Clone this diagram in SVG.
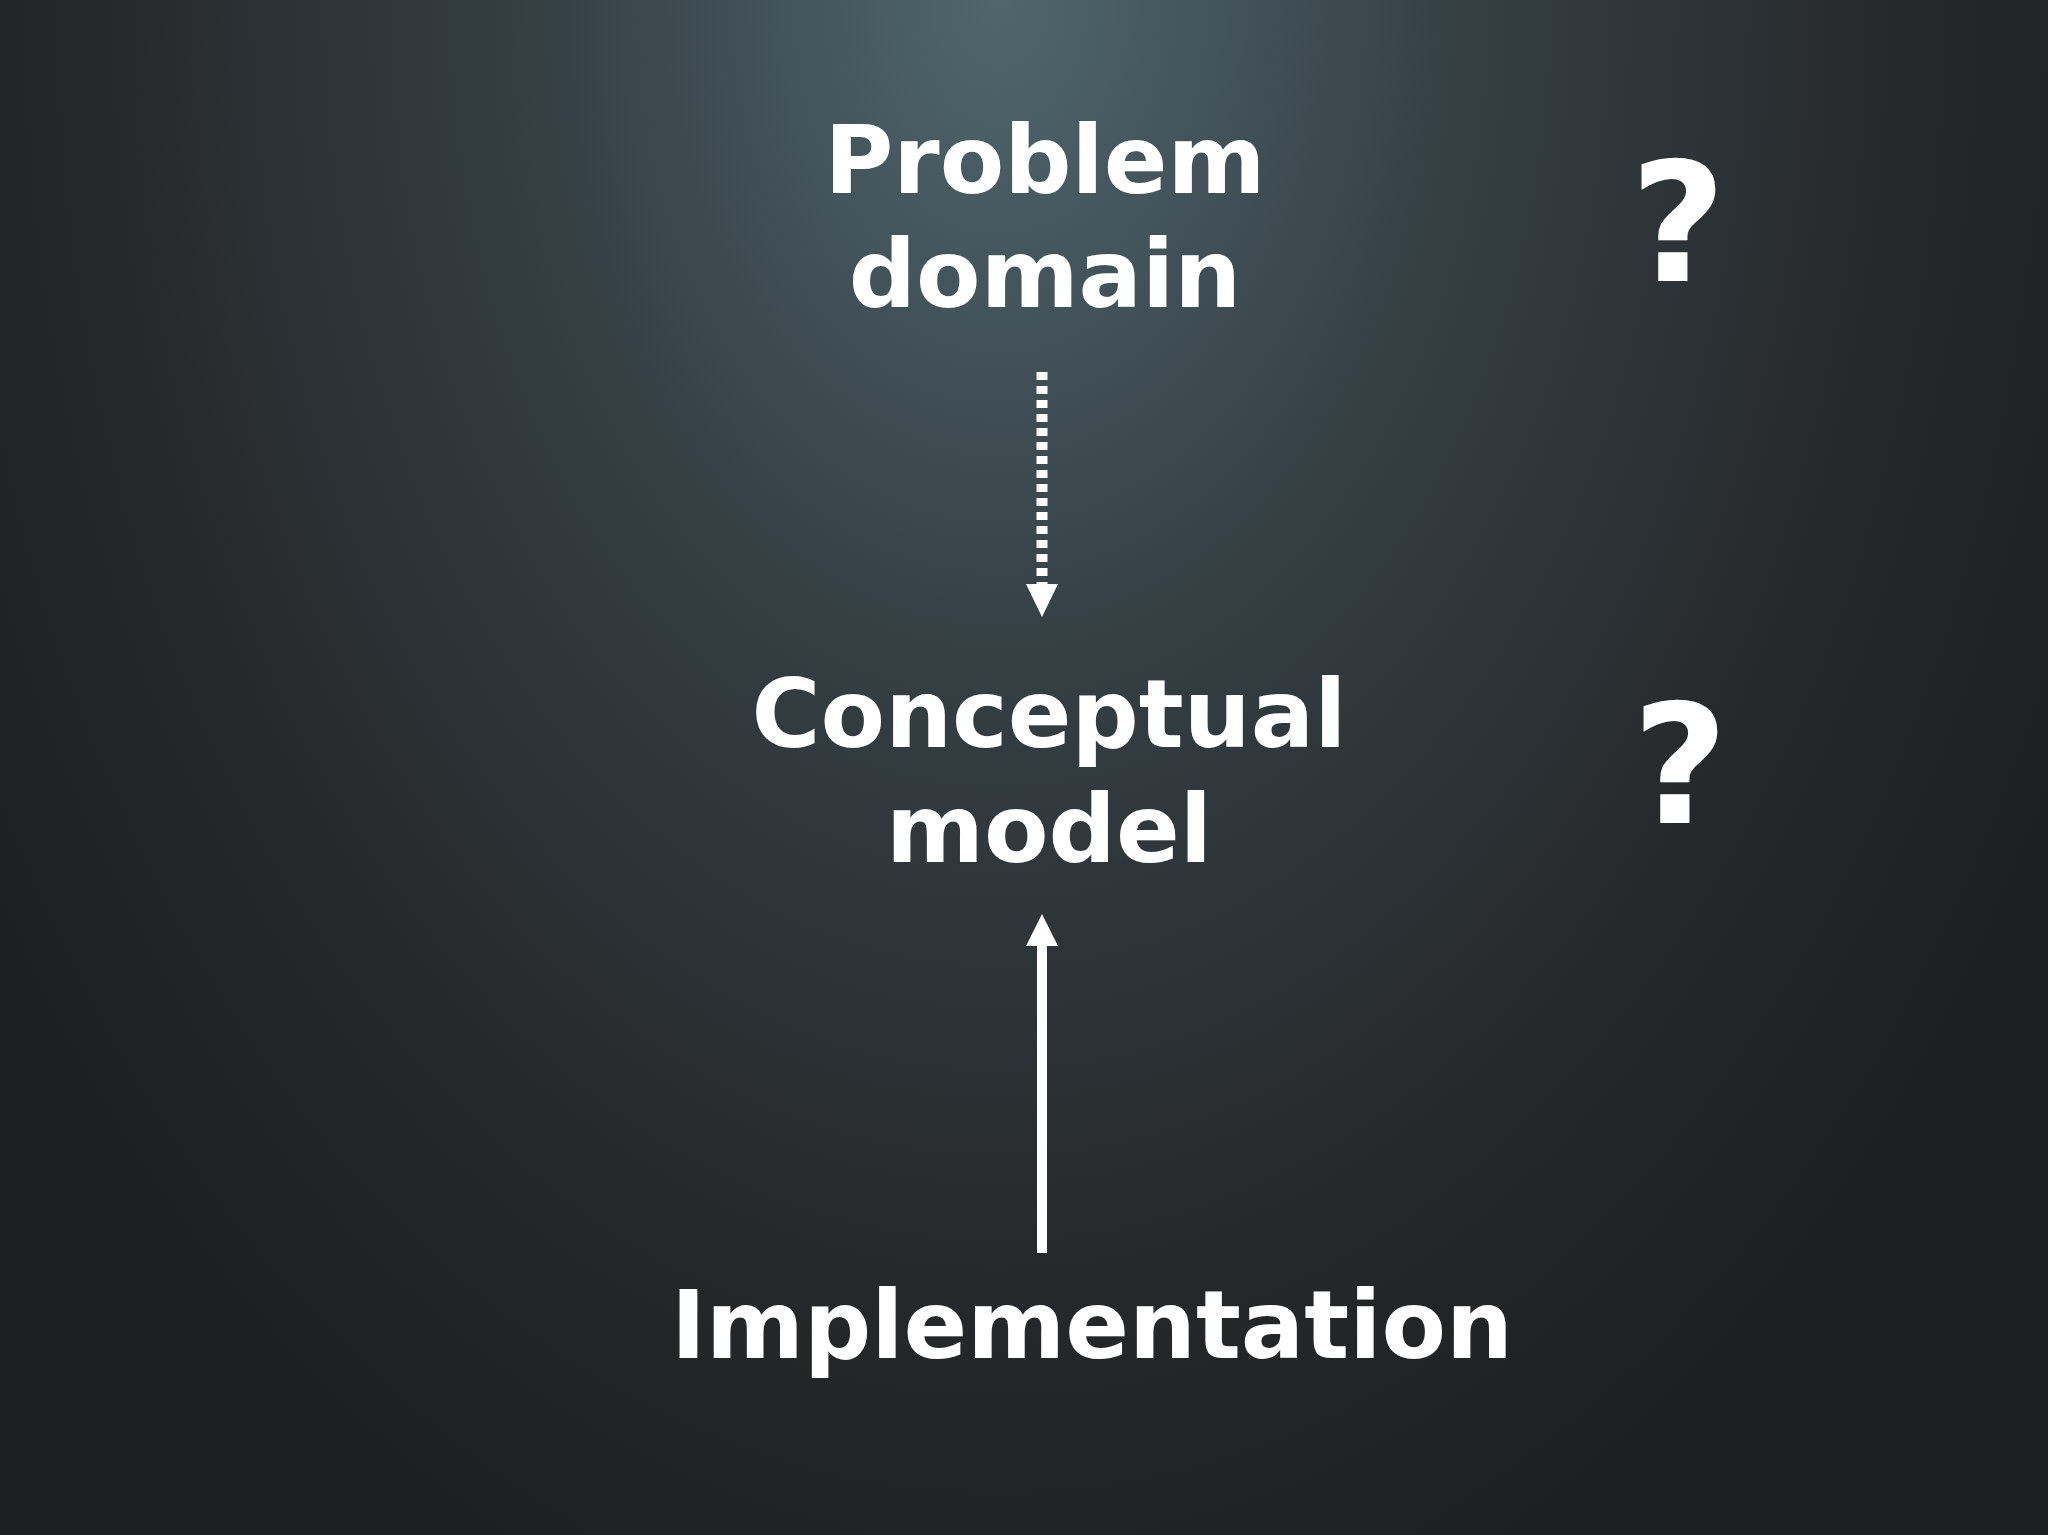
<svg xmlns="http://www.w3.org/2000/svg" width="2048" height="1535" viewBox="0 0 2048 1535">
<defs>
<radialGradient id="bg" cx="1000" cy="0" r="1700" gradientUnits="userSpaceOnUse" gradientTransform="translate(1000 0) scale(0.7 1) translate(-1000 0)">
<stop offset="0" stop-color="#4f666d"/>
<stop offset="0.4" stop-color="#343e43"/>
<stop offset="0.8" stop-color="#242628"/>
<stop offset="1" stop-color="#1e1f21"/>
</radialGradient>
<style>
text{font-family:"DejaVu Sans",Verdana,sans-serif;font-weight:bold;fill:#fff;text-anchor:middle}
.n{font-size:94px}
.q{font-size:165px}
</style>
</defs>
<rect width="2048" height="1535" fill="url(#bg)"/>
<g id="problem"><text class="n" x="1045" y="193">Problem</text><text class="n" x="1045" y="307">domain</text></g>
<g id="conceptual"><text class="n" x="1049" y="747">Conceptual</text><text class="n" x="1049" y="862">model</text></g>
<g id="implementation"><text class="n" x="1092" y="1358">Implementation</text></g>
<g id="q1"><text class="q" x="1678" y="281">?</text></g>
<g id="q2"><text class="q" x="1680" y="823">?</text></g>
<g id="connectors">
<line x1="1042" y1="372" x2="1042" y2="584" stroke="#fff" stroke-width="11" stroke-dasharray="8 6"/>
<path d="M1026,584 L1058,584 L1042,617 z" fill="#fff"/>
<line x1="1042" y1="1253" x2="1042" y2="944" stroke="#fff" stroke-width="10"/>
<path d="M1026,946 L1058,946 L1042,914 z" fill="#fff"/>
</g>
</svg>
